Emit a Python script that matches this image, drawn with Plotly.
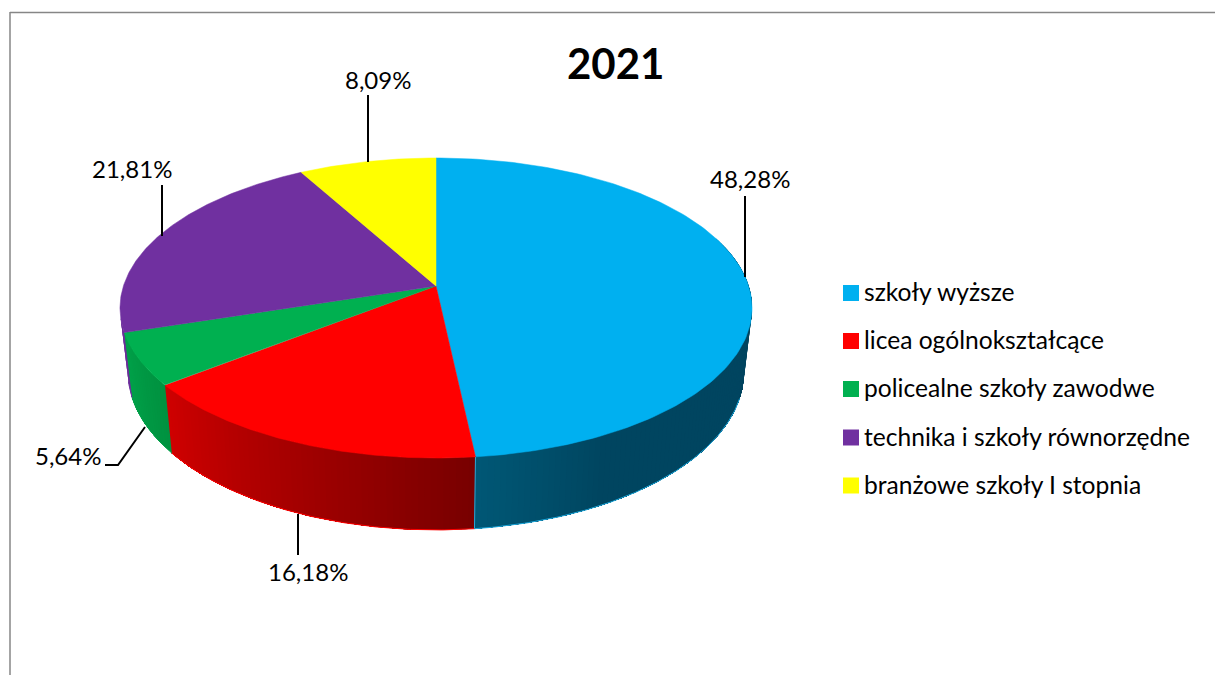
import numpy as np
import plotly.graph_objects as go

# ---- data ----
categories = ["szkoły wyższe", "licea ogólnokształcące", "policealne szkoły zawodwe",
              "technika i szkoły równorzędne", "branżowe szkoły I stopnia"]
values = [48.28, 16.18, 5.64, 21.81, 8.09]
value_labels = ["48,28%", "16,18%", "5,64%", "21,81%", "8,09%"]
colors = ["#00B0F0", "#FF0000", "#00B050", "#7030A0", "#FFFF00"]
title_text = "2021"

# ---- styling / geometry of the drawing (pixel axes) ----
FONT = "Lato"
CX, CY = 436.0, 286.0
RX, RY, K = 312.6, 146.8, 0.1467
WALL_SX, WALL_SY, WALL_A = 0.975, 1.055, 46.7

# wall gradient stops: (fraction along the slice from its first angle, colour)
wall_stops = {
    0: [(0.0, (0, 69, 96)), (0.87, (0, 69, 96)), (1.0, (0, 88, 118))],
    1: [(0.0, (120, 0, 0)), (1.0, (208, 0, 0))],
    2: [(0.0, (0, 146, 64)), (1.0, (0, 162, 74))],
    3: [(0.0, (107, 46, 153)), (1.0, (107, 46, 153))],
}
rim_colors = {0: "#1FA9DC", 1: "#FF0000", 2: "#00A24A", 3: "#7030A0"}

label_pos = [(750, 178.5), (308, 571.5), (68, 455.5), (132, 168.5), (378, 79.5)]
leaders = [
    ([745, 745], [196, 277]),
    ([298, 298], [514, 555]),
    ([105, 118, 145], [465, 465, 427]),
    ([162, 162], [185, 236]),
    ([368, 368], [95, 162]),
]
legend_y = [293, 341, 389, 437.5, 485.5]
LEG_MARK_X, LEG_TEXT_X = 851, 862


def rim(theta):
    """Perspective projection of a point of the unit circle (theta clockwise from top)."""
    X, Y = np.sin(theta), np.cos(theta)
    w = 1 + K * Y
    return CX + RX * X / w, CY - RY * Y / w


def low(theta):
    x, y = rim(theta)
    return CX + WALL_SX * (x - CX), WALL_A + WALL_SY * y


def rgb(stops, f):
    fs = [s[0] for s in stops]
    return "rgb(%d,%d,%d)" % tuple(np.interp(f, fs, [s[1][i] for s in stops]) for i in range(3))


edges = np.concatenate([[0], np.cumsum(values)]) / sum(values) * 2 * np.pi
fig = go.Figure()
VIS_A, VIS_B = np.radians(70), np.radians(258)

# side walls: each strip runs to the end of its slice and the next one paints over it
for i in range(4):
    a0, a1 = edges[i], edges[i + 1]
    a = max(a0, VIS_A)
    b = min(a1, VIS_B)
    n = max(2, int(np.degrees(b - a) / 1.0))
    th = np.linspace(a, b, n + 1)
    for j in range(n):
        f = ((th[j] + th[j + 1]) / 2 - a0) / (a1 - a0)
        sub = np.linspace(th[j], b, max(3, (n - j) * 2 + 1))
        xt, yt = rim(sub)
        xb, yb = low(sub[::-1])
        col = rgb(wall_stops[i], f)
        fig.add_trace(go.Scatter(
            x=list(xt) + list(xb) + [xt[0]], y=list(yt) + list(yb) + [yt[0]],
            mode="lines", fill="toself", fillcolor=col, line=dict(color=col, width=0),
            hoverinfo="skip", showlegend=False))
    s = np.linspace(max(a, np.radians(108)), b, 120)
    xb, yb = low(s)
    fig.add_trace(go.Scatter(x=xb, y=yb, mode="lines", line=dict(color=rim_colors[i], width=1),
                             hoverinfo="skip", showlegend=False))

# seam between the blue and red walls
xa, ya = rim(edges[1])
xc, yc = low(edges[1])
fig.add_trace(go.Scatter(x=[xa, xc], y=[ya, yc], mode="lines", line=dict(color="#2AA9D8", width=1),
                         hoverinfo="skip", showlegend=False))

# top face
for i, (name, c) in enumerate(zip(categories, colors)):
    th = np.linspace(edges[i], edges[i + 1], 160)
    xs, ys = rim(th)
    fig.add_trace(go.Scatter(
        x=[CX] + list(xs) + [CX], y=[CY] + list(ys) + [CY],
        mode="lines", fill="toself", fillcolor=c, line=dict(color=c, width=0.5),
        name=name, text=value_labels[i], hoverinfo="name+text", showlegend=False))

# leader lines
for lx, ly in leaders:
    fig.add_trace(go.Scatter(x=lx, y=ly, mode="lines", line=dict(color="#000000", width=2),
                             hoverinfo="skip", showlegend=False))

# legend swatches
fig.add_trace(go.Scatter(x=[LEG_MARK_X] * len(categories), y=legend_y, mode="markers",
                         marker=dict(symbol="square", size=16, color=colors, line=dict(width=0)),
                         hoverinfo="skip", showlegend=False))

ann = []
for txt, (x, y) in zip(value_labels, label_pos):
    ann.append(dict(x=x, y=y, text=txt, showarrow=False, xref="x", yref="y",
                    font=dict(family=FONT, size=24, color="#000000")))
for name, y in zip(categories, legend_y):
    ann.append(dict(x=LEG_TEXT_X, y=y - 1.5, text=name, showarrow=False, xref="x", yref="y", xanchor="left",
                    font=dict(family=FONT, size=24.6, color="#000000")))
ann.append(dict(x=615, y=63, text="<b>%s</b>" % title_text, showarrow=False, xref="x", yref="y",
                font=dict(family=FONT, size=42, color="#000000")))

frame = dict(type="line", xref="x", yref="y", line=dict(color="#868686", width=1.5))
fig.update_layout(
    width=1215, height=675, margin=dict(l=0, r=0, t=0, b=0),
    paper_bgcolor="#FFFFFF", plot_bgcolor="#FFFFFF", showlegend=False,
    xaxis=dict(range=[0, 1215], visible=False, fixedrange=True),
    yaxis=dict(range=[675, 0], visible=False, fixedrange=True),
    annotations=ann,
    shapes=[dict(frame, x0=10, y0=12.5, x1=1215, y1=12.5), dict(frame, x0=10, y0=12, x1=10, y1=675)],
)
fig.write_html("out.html", config={"displayModeBar": False},
               post_script="document.body.style.margin='0';document.documentElement.style.overflow='hidden';")
